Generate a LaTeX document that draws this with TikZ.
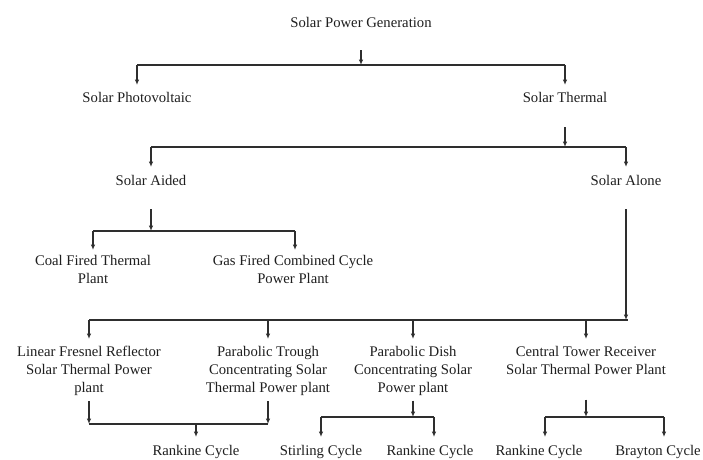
\documentclass[tikz,border=0pt]{standalone}
\usepackage{fontspec}
\setmainfont{Liberation Serif}
\usetikzlibrary{arrows.meta}
\begin{document}
\begin{tikzpicture}[x=1pt,y=-1pt,
  lbl/.style={inner sep=0pt, outer sep=0pt, align=center, anchor=north,
    font=\fontsize{14.7}{18}\selectfont, text=black!88,
    execute at begin node=\strut, execute at end node=\strut},
  wire/.style={line width=1.4pt, draw=black!82},
  arr/.style={wire, -{Latex[length=5.5pt,width=4.5pt]}}]
\useasboundingbox[fill=white] (0,0) rectangle (703,459);

% labels (anchored at the top of their first line)
\node[lbl] (spg) at (361,14.4) {Solar Power Generation};
\node[lbl] (spv) at (137,89.4) {Solar Photovoltaic};
\node[lbl] (sth) at (565,89.4) {Solar Thermal};
\node[lbl] (sai) at (151,172.4) {Solar Aided};
\node[lbl] (sal) at (626,172.4) {Solar Alone};
\node[lbl] (coal) at (93,255.4) {Coal Fired Thermal\\Plant};
\node[lbl] (gas) at (293,255.4) {Gas Fired Combined Cycle\\Power Plant};
\node[lbl] (lfr) at (89,346.4) {Linear Fresnel Reflector\\Solar Thermal Power\\plant};
\node[lbl] (ptr) at (268,346.4) {Parabolic Trough\\Concentrating Solar\\Thermal Power plant};
\node[lbl] (pdi) at (413,346.4) {Parabolic Dish\\Concentrating Solar\\Power plant};
\node[lbl] (ctr) at (586,346.4) {Central Tower Receiver\\Solar Thermal Power Plant};
\node[lbl] (rk1) at (196,442.4) {Rankine Cycle};
\node[lbl] (stc) at (321,442.4) {Stirling Cycle};
\node[lbl] (rk2) at (430,442.4) {Rankine Cycle};
\node[lbl] (rk3) at (539,442.4) {Rankine Cycle};
\node[lbl] (bry) at (658,442.4) {Brayton Cycle};

% bus bar end points
\coordinate (b1L) at (137,65);  \coordinate (b1R) at (565,65);
\coordinate (b2L) at (151,147); \coordinate (b2R) at (626,147);
\coordinate (b3L) at (93,231);  \coordinate (b3R) at (295,231);
\coordinate (b4L) at (89,320);  \coordinate (b4R) at (628,320);
\coordinate (b5L) at (89,424);  \coordinate (b5R) at (268,424);
\coordinate (b6L) at (321,417); \coordinate (b6R) at (434,417);
\coordinate (b7L) at (545,417); \coordinate (b7R) at (664,417);

% solar power generation
\draw[wire] (b1L) -- (b1R);
\draw[arr, shorten <=17.6pt] (spg.south) -- (spg.south |- b1L);
\draw[arr, shorten >=4.4pt] (b1L) -- (b1L |- spv.north);
\draw[arr, shorten >=4.4pt] (b1R) -- (b1R |- sth.north);

% solar thermal
\draw[wire] (b2L) -- (b2R);
\draw[arr, shorten <=19.6pt] (sth.south) -- (sth.south |- b2L);
\draw[arr, shorten >=5.4pt] (b2L) -- (b2L |- sai.north);
\draw[arr, shorten >=5.4pt] (b2R) -- (b2R |- sal.north);

% solar aided
\draw[wire] (b3L) -- (b3R);
\draw[arr, shorten <=18.6pt] (sai.south) -- (sai.south |- b3L);
\draw[arr, shorten >=5.4pt] (b3L) -- (b3L |- coal.north);
\draw[arr, shorten >=5.4pt] (b3R) -- (b3R |- gas.north);

% solar alone
\draw[wire] (b4L) -- (b4R);
\draw[arr, shorten <=18.6pt] (sal.south) -- (sal.south |- b4L);
\foreach \n in {lfr,ptr,pdi,ctr}
  \draw[arr, shorten >=7.4pt] (\n.north |- b4L) -- (\n.north);

% fresnel and trough plants
\draw[wire] (b5L) -- (b5R);
\draw[arr, shorten <=3pt] (lfr.south) -- (lfr.south |- b5L);
\draw[arr, shorten <=3pt] (ptr.south) -- (ptr.south |- b5L);
\draw[arr, shorten >=5.4pt] (rk1.north |- b5L) -- (rk1.north);

% dish plant
\draw[wire] (b6L) -- (b6R);
\draw[arr, shorten <=2.6pt] (pdi.south) -- (pdi.south |- b6L);
\draw[arr, shorten >=5.4pt] (b6L) -- (b6L |- stc.north);
\draw[arr, shorten >=5.4pt] (b6R) -- (b6R |- rk2.north);

% central tower plant
\draw[wire] (b7L) -- (b7R);
\draw[arr, shorten <=19.6pt] (ctr.south) -- (ctr.south |- b7L);
\draw[arr, shorten >=5.4pt] (b7L) -- (b7L |- rk3.north);
\draw[arr, shorten >=5.4pt] (b7R) -- (b7R |- bry.north);
\end{tikzpicture}
\end{document}
